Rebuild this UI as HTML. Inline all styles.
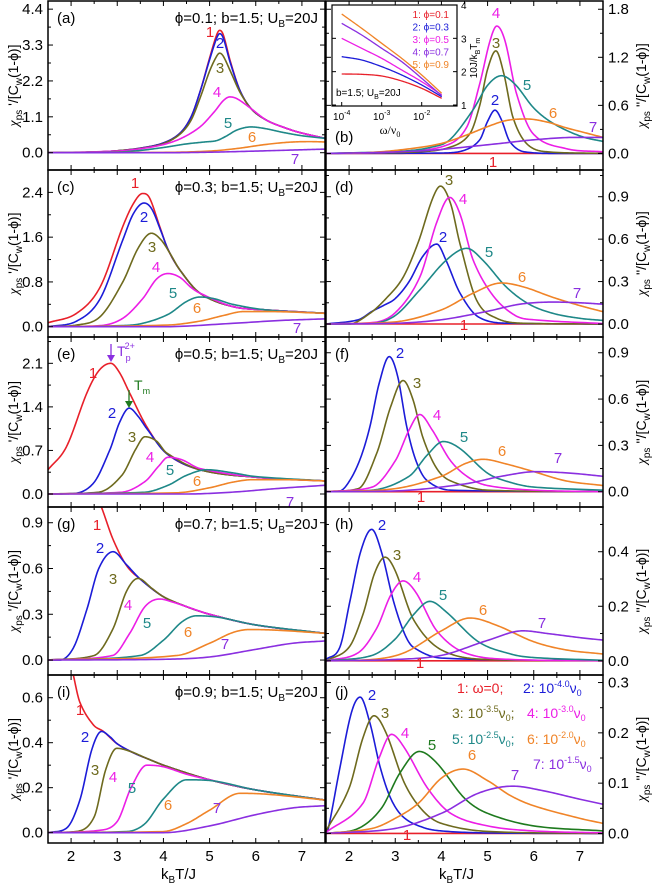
<!DOCTYPE html>
<html><head><meta charset="utf-8">
<style>
html,body{margin:0;padding:0;background:#fff;}
svg{display:block;font-family:"Liberation Sans",sans-serif;}
</style></head>
<body>
<svg id="fig" width="658" height="885" viewBox="0 0 658 885" xmlns="http://www.w3.org/2000/svg"></svg>
<script>
// ---------- data ----------
const xTicks=[2,3,4,5,6,7];
const curveIds=[1,2,3,4,5,6,7];
const colors=["#e8202a","#1c1cd8","#6e6a1e","#ec1ee6","#1e8888","#f08428","#8a2fe0"];
// panel (a)
const pa1=[1.5,0,2.5,0.02,3,0.06,3.5,0.14,4,0.3,4.36,0.6,4.6,1.1,4.8,1.9,5.0,2.9,5.15,3.6,5.22,3.75,5.3,3.6,5.45,2.8,5.66,1.9,5.9,1.35,6.23,1.0,6.6,0.78,6.95,0.62,7.5,0.44];
const pa2=[1.5,0,2.5,0.02,3,0.06,3.5,0.14,4,0.3,4.36,0.6,4.6,1.1,4.8,1.9,5.0,2.85,5.15,3.5,5.22,3.65,5.3,3.5,5.45,2.75,5.66,1.9,5.9,1.35,6.23,1.0,6.6,0.78,6.95,0.62,7.5,0.44];
const pa3=[1.5,0,2.5,0.02,3,0.06,3.5,0.13,4,0.28,4.36,0.57,4.6,1.0,4.8,1.7,5.0,2.5,5.15,2.95,5.22,3.05,5.3,2.95,5.45,2.5,5.66,1.85,5.9,1.35,6.23,1.0,6.6,0.78,6.95,0.62,7.5,0.44];
const pa4=[1.5,0,3,0.05,3.5,0.12,4,0.25,4.4,0.45,4.8,0.8,5.1,1.25,5.3,1.6,5.44,1.71,5.6,1.65,5.9,1.35,6.23,1.0,6.6,0.78,6.95,0.62,7.5,0.44];
const pa5=[1.5,0,3,0.02,3.5,0.07,4,0.16,4.5,0.27,4.9,0.33,5.15,0.37,5.35,0.5,5.6,0.7,5.9,0.79,6.2,0.74,6.6,0.62,7,0.52,7.5,0.44];
const pa6=[1.5,0,4,0.01,5,0.05,5.6,0.13,6.2,0.25,6.7,0.32,7.17,0.34,7.5,0.33];
const pa7=[1.5,0,4,0,5,0.015,6,0.05,7,0.09,7.5,0.11];
// panel (b)
const pb1=[1.5,0,7.5,0];
const pb2=[1.5,0,4,0.005,4.5,0.04,4.83,0.17,5.0,0.4,5.16,0.54,5.3,0.42,5.48,0.15,5.8,0.02,6.5,0,7.5,0];
const pb3=[1.5,0,3.5,0.02,4.2,0.08,4.62,0.25,4.83,0.6,5.0,1.05,5.18,1.28,5.35,1.0,5.55,0.45,5.85,0.12,6.3,0.02,7.5,0];
const pb4=[1.5,0,3,0.02,4.1,0.1,4.55,0.33,4.83,0.87,5.05,1.4,5.2,1.59,5.38,1.4,5.63,0.74,5.98,0.25,6.7,0.06,7.5,0.02];
const pb5=[1.5,0,3.2,0.03,3.8,0.08,4.18,0.17,4.68,0.54,5.0,0.85,5.3,0.97,5.6,0.86,5.98,0.58,6.3,0.42,6.7,0.29,7.1,0.2,7.5,0.15];
const pb6=[1.5,0,2.4,0.01,3.2,0.05,3.97,0.12,4.5,0.22,4.98,0.33,5.4,0.41,5.85,0.43,6.3,0.39,6.7,0.32,7.1,0.26,7.5,0.2];
const pb7=[1.5,0,2.5,0.01,3.5,0.03,4,0.05,5.2,0.12,6,0.17,6.9,0.2,7.5,0.2];
// panel (c)
const pc1=[1.5,0.07,2.12,0.24,2.63,0.71,3.12,1.79,3.35,2.2,3.55,2.38,3.7,2.3,3.92,1.79,4.1,1.38,4.36,1.01,4.79,0.6,5.5,0.36,6.23,0.3,7.5,0.24];
const pc2=[1.5,0,2.12,0.1,2.63,0.5,3.12,1.55,3.35,2.02,3.58,2.21,3.75,2.1,3.95,1.7,4.1,1.38,4.36,1.01,4.79,0.6,5.5,0.36,6.23,0.3,7.5,0.24];
const pc3=[1.5,0,2.12,0.03,2.63,0.18,3.12,0.8,3.45,1.4,3.74,1.67,3.95,1.55,4.15,1.3,4.36,1.01,4.79,0.6,5.5,0.36,6.23,0.3,7.5,0.24];
const pc4=[1.5,0,2.63,0.02,3.12,0.15,3.55,0.5,3.85,0.85,4.1,0.95,4.36,0.88,4.6,0.7,4.79,0.6,5.5,0.36,6.23,0.3,7.5,0.24];
const pc5=[1.5,0,3.1,0.02,3.55,0.06,4.1,0.22,4.5,0.45,4.79,0.53,5.1,0.5,5.5,0.4,6.23,0.3,7.5,0.24];
const pc6=[1.5,0,4.1,0.03,4.79,0.1,5.3,0.2,5.73,0.27,6.3,0.27,7.5,0.24];
const pc7=[1.5,0,4,0,5.5,0.06,6.5,0.11,7.5,0.14];
// panel (d)
const pd1=[1.5,0,7.5,0];
const pd2=[1.5,0,2.2,0.03,2.5,0.09,2.74,0.13,3.0,0.18,3.3,0.3,3.6,0.48,3.9,0.565,4.1,0.45,4.4,0.22,4.8,0.05,5.5,0.005,7.5,0];
const pd3=[1.5,0,2.0,0,2.45,0.075,2.8,0.18,3.17,0.33,3.5,0.58,3.8,0.88,3.98,0.975,4.2,0.85,4.4,0.57,4.76,0.17,5.2,0.04,5.8,0.005,7.5,0];
const pd4=[1.5,0,2.5,0.01,3.0,0.08,3.53,0.33,3.9,0.72,4.18,0.895,4.4,0.78,4.69,0.45,5.12,0.2,5.6,0.06,6,0.03,7.5,0.003];
const pd5=[1.5,0,2.5,0.005,3.0,0.06,3.53,0.24,4.1,0.45,4.55,0.535,4.9,0.45,5.41,0.26,5.9,0.14,6.42,0.075,7,0.04,7.5,0.025];
const pd6=[1.5,0,3,0.015,4,0.1,4.7,0.22,5.3,0.29,5.8,0.26,6.4,0.19,7,0.13,7.5,0.087];
const pd7=[1.5,0,3,0.005,4,0.03,5,0.09,5.7,0.14,6.42,0.155,7,0.15,7.5,0.14];
// panel (e)
const pe1=[1.5,0.39,1.9,0.76,2.34,1.62,2.6,1.98,2.86,2.1,3.05,1.95,3.27,1.62,3.64,1.08,4.07,0.65,4.79,0.39,6,0.27,7.5,0.21];
const pe2=[1.5,0,2.0,0.005,2.48,0.17,2.84,0.71,3.05,1.15,3.26,1.38,3.45,1.25,3.64,1.05,4.07,0.65,4.79,0.39,6,0.27,7.5,0.21];
const pe3=[1.5,0,2.6,0.03,3.1,0.3,3.4,0.72,3.6,0.92,3.85,0.85,4.07,0.66,4.79,0.39,6,0.27,7.5,0.21];
const pe4=[1.5,0,3.1,0.03,3.6,0.2,3.9,0.45,4.1,0.59,4.4,0.55,4.79,0.41,6,0.27,7.5,0.21];
const pe5=[1.5,0,3.6,0.03,4.1,0.14,4.5,0.3,4.94,0.39,5.5,0.34,6,0.28,7.5,0.21];
const pe6=[1.5,0,4.3,0.02,5,0.1,5.5,0.19,5.94,0.23,6.6,0.23,7.5,0.21];
const pe7=[1.5,0,4.5,0,5.5,0.03,6.5,0.09,7.5,0.14];
// panel (f)
const pf1=[1.5,0,7.5,0];
const pf2=[1.5,0,1.8,0.005,2.02,0.075,2.25,0.22,2.45,0.42,2.65,0.7,2.87,0.875,3.05,0.75,3.25,0.42,3.45,0.2,3.68,0.075,4.2,0.01,7.5,0];
const pf3=[1.5,0,2.2,0.02,2.6,0.25,2.9,0.55,3.17,0.72,3.38,0.6,3.6,0.35,3.9,0.15,4.2,0.07,5,0.01,7.5,0];
const pf4=[1.5,0,2.5,0.03,3.0,0.2,3.3,0.4,3.53,0.5,3.8,0.4,4.2,0.2,4.6,0.09,5,0.04,6,0.01,7.5,0];
const pf5=[1.5,0,2.5,0.01,3.3,0.1,3.7,0.24,4.04,0.325,4.4,0.28,5,0.12,5.5,0.06,6,0.03,7.5,0.01];
const pf6=[1.5,0,3,0.02,4,0.1,4.5,0.18,4.9,0.21,5.4,0.18,6,0.13,6.7,0.07,7.5,0.04];
const pf7=[1.5,0,3,0.005,4.5,0.05,5.3,0.1,6.06,0.13,6.8,0.12,7.5,0.1];
// panel (g)
const pg1=[2.45,1.15,2.66,1.0,2.91,0.79,3.2,0.62,3.5,0.53,4,0.415,4.5,0.35,5,0.3,6,0.23,7.5,0.175];
const pg2=[1.5,0,1.75,0,2.05,0.08,2.34,0.33,2.6,0.6,2.91,0.71,3.2,0.625,3.5,0.53,4,0.415,4.5,0.35,5,0.3,6,0.23,7.5,0.175];
const pg3=[1.5,0,2.5,0.03,2.9,0.2,3.2,0.45,3.45,0.535,3.75,0.47,4,0.415,4.5,0.35,5,0.3,6,0.23,7.5,0.175];
const pg4=[1.5,0,2.9,0.03,3.27,0.175,3.6,0.35,3.92,0.4,4.2,0.38,4.5,0.35,5,0.3,6,0.23,7.5,0.175];
const pg5=[1.5,0,3.5,0.03,4,0.13,4.4,0.25,4.72,0.29,5.2,0.28,6,0.23,7.5,0.175];
const pg6=[1.5,0,4.3,0.03,5,0.11,5.5,0.18,5.87,0.2,6.5,0.195,7.5,0.175];
const pg7=[1.5,0,4,0.005,5,0.02,6,0.07,6.8,0.11,7.5,0.125];
// panel (h)
const ph1=[1.5,0,7.5,0];
const ph2=[1.5,0.005,1.8,0.05,2.02,0.22,2.25,0.4,2.49,0.482,2.7,0.4,2.96,0.22,3.2,0.1,3.39,0.05,4,0.01,7.5,0];
const ph3=[1.5,0,2.0,0.05,2.3,0.17,2.55,0.32,2.78,0.38,3.0,0.33,3.4,0.15,4,0.04,5,0.005,7.5,0];
const ph4=[1.5,0,2.2,0.03,2.6,0.12,2.9,0.24,3.17,0.293,3.45,0.25,3.9,0.11,4.5,0.03,5.5,0.005,7.5,0];
const ph5=[1.5,0,2.5,0.02,3,0.08,3.4,0.17,3.75,0.218,4.1,0.18,4.8,0.07,5.5,0.025,6,0.012,7.5,0.002];
const ph6=[1.5,0,2.5,0.005,3.2,0.03,4,0.11,4.62,0.157,5.2,0.13,6,0.07,6.7,0.04,7.5,0.025];
const ph7=[1.5,0,3,0.005,4,0.02,5,0.075,5.77,0.11,6.3,0.1,7,0.085,7.5,0.076];
// panel (i)
const pi1=[1.95,0.8,2.05,0.7,2.19,0.58,2.48,0.48,2.7,0.45,3.0,0.395,3.35,0.355,3.64,0.33,4.07,0.295,5,0.235,6,0.19,7.5,0.145];
const pi2=[1.5,0,1.9,0.02,2.19,0.145,2.45,0.37,2.66,0.45,2.85,0.425,3.0,0.395,3.35,0.355,3.64,0.33,4.07,0.295,5,0.235,6,0.19,7.5,0.145];
const pi3=[1.5,0,2.1,0.005,2.5,0.07,2.75,0.28,2.99,0.375,3.3,0.36,3.64,0.33,4.07,0.295,5,0.235,6,0.19,7.5,0.145];
const pi4=[1.5,0,2.6,0.01,3.0,0.05,3.3,0.2,3.64,0.3,4,0.293,4.5,0.26,5,0.235,6,0.19,7.5,0.145];
const pi5=[1.5,0,3.2,0.005,3.6,0.04,4,0.15,4.5,0.235,5,0.232,6,0.19,7.5,0.145];
const pi6=[1.5,0,4,0.005,4.5,0.04,5,0.1,5.66,0.175,6.3,0.17,7.5,0.145];
const pi7=[1.5,0,4,0,5,0.03,6,0.08,6.8,0.11,7.5,0.12];
// panel (j)
const pj1=[1.5,0,7.5,0];
const pj2=[1.5,0.003,1.55,0.01,1.8,0.13,2.05,0.24,2.24,0.271,2.45,0.22,2.67,0.133,2.9,0.07,3.17,0.033,3.6,0.012,4,0.005,5,0.001,7.5,0];
const pj3=[1.5,0.005,2.0,0.09,2.3,0.19,2.54,0.234,2.8,0.2,3.2,0.1,3.6,0.045,4,0.02,5,0.004,7.5,0];
const pj4=[1.5,0.002,2.3,0.06,2.65,0.15,2.92,0.197,3.2,0.17,3.7,0.09,4.2,0.04,5,0.015,6,0.005,7.5,0.001];
const pj5=[1.5,0,2.2,0.01,2.7,0.05,3.1,0.12,3.52,0.163,3.9,0.14,4.5,0.07,5,0.04,6,0.015,7.5,0.005];
const pj6=[1.5,0,2.5,0.01,3.0,0.03,3.5,0.06,4.0,0.11,4.47,0.128,5,0.105,5.5,0.075,6,0.055,7,0.03,7.5,0.02];
const pj7=[1.5,0,3,0.01,4,0.04,4.8,0.08,5.55,0.094,6.2,0.085,7,0.068,7.5,0.058];
// inset of (b): log10(omega/nu0) vs 10J/kBTm
const insetLogW=[-4,-3.5,-3,-2.5,-2,-1.5];
const insetPhi=["0.1","0.3","0.5","0.7","0.9"];
const inset1=[1.93,1.92,1.87,1.72,1.5,1.2];
const inset2=[2.45,2.35,2.15,1.9,1.6,1.25];
const inset3=[3.0,2.7,2.4,2.05,1.7,1.3];
const inset4=[3.45,3.1,2.7,2.3,1.8,1.28];
const inset5=[3.73,3.3,2.85,2.4,1.9,1.35];

// ---------- layout ----------
const NS="http://www.w3.org/2000/svg";
const svg=document.getElementById('fig');
function mk(tag,attrs,parent){const e=document.createElementNS(NS,tag);for(const k in attrs)e.setAttribute(k,attrs[k]);(parent||svg).appendChild(e);return e;}
const panels=[
 {id:"a",col:0,top:1,bot:170,ymin:-0.53,ymax:4.65,maj:1.1,min:0.55,ytop:4.4,series:[pa1,pa2,pa3,pa4,pa5,pa6,pa7],phi:"0.1",
  labels:[[210,37],[220,48],[220,73],[217,97],[228,128],[252,142],[295,164]]},
 {id:"b",col:1,top:1,bot:170,ymin:-0.207,ymax:1.903,maj:0.6,min:0.3,ytop:1.8,series:[pb1,pb2,pb3,pb4,pb5,pb6,pb7],
  labels:[[493,167],[495,105],[496,48],[496,18],[527,90],[553,118],[593,132]]},
 {id:"c",col:0,top:170,bot:337,ymin:-0.184,ymax:2.8,maj:0.8,min:0.4,ytop:2.4,series:[pc1,pc2,pc3,pc4,pc5,pc6,pc7],phi:"0.3",
  labels:[[135,188],[144,222],[152,252],[156,272],[173,298],[197,313],[297,333]]},
 {id:"d",col:1,top:170,bot:337,ymin:-0.092,ymax:1.089,maj:0.3,min:0.15,ytop:0.9,series:[pd1,pd2,pd3,pd4,pd5,pd6,pd7],
  labels:[[464,330],[443,242],[449,185],[463,204],[489,257],[522,282],[577,298]]},
 {id:"e",col:0,top:337,bot:507,ymin:-0.209,ymax:2.523,maj:0.7,min:0.35,ytop:2.1,series:[pe1,pe2,pe3,pe4,pe5,pe6,pe7],phi:"0.5",
  labels:[[93,378],[112,418],[132,442],[150,462],[170,475],[197,486],[290,507]]},
 {id:"f",col:1,top:337,bot:507,ymin:-0.099,ymax:1.002,maj:0.3,min:0.15,ytop:0.9,series:[pf1,pf2,pf3,pf4,pf5,pf6,pf7],
  labels:[[421,502],[400,358],[417,388],[437,420],[464,442],[502,456],[558,463]]},
 {id:"g",col:0,top:507,bot:675,ymin:-0.098,ymax:1.003,maj:0.3,min:0.15,ytop:0.9,series:[pg1,pg2,pg3,pg4,pg5,pg6,pg7],phi:"0.7",
  labels:[[97,530],[100,553],[113,584],[128,610],[147,628],[188,637],[225,649]]},
 {id:"h",col:1,top:507,bot:675,ymin:-0.052,ymax:0.564,maj:0.2,min:0.1,ytop:0.4,series:[ph1,ph2,ph3,ph4,ph5,ph6,ph7],
  labels:[[420,668],[382,530],[397,560],[417,582],[443,600],[483,615],[542,628]]},
 {id:"i",col:0,top:675,bot:843,ymin:-0.046,ymax:0.701,maj:0.2,min:0.1,ytop:0.6,series:[pi1,pi2,pi3,pi4,pi5,pi6,pi7],phi:"0.9",
  labels:[[80,715],[85,742],[95,775],[113,782],[132,793],[168,810],[217,813]]},
 {id:"j",col:1,top:675,bot:843,ymin:-0.019,ymax:0.315,maj:0.1,min:0.05,ytop:0.3,series:[pj1,pj2,pj3,pj4,pj5,pj6,pj7],
  labels:[[407,840],[372,700],[385,718],[405,738],[432,750],[472,760],[515,780]]}
];
const colL=[48,326], colW=277;

const defs=mk('defs',{});
panels.forEach(p=>{
  const L=colL[p.col], R=L+colW;
  const xs=x=>L+(x-1.5)/6*colW;
  const ys=v=>p.bot-(v-p.ymin)/(p.ymax-p.ymin)*(p.bot-p.top);
  const g=mk('g',{});
  
  
  const cp=mk('clipPath',{id:'clip'+p.id},defs);
  mk('rect',{x:L,y:p.top,width:colW,height:p.bot-p.top},cp);
  const sg=mk('g',{'clip-path':'url(#clip'+p.id+')'},g);
  p.series.forEach((arr,i)=>{
    const pts=[];for(let k=0;k<arr.length;k+=2)pts.push([arr[k],arr[k+1]]);
    const d=smoothPath(pts,xs,ys);
    let col=colors[i];
    if(p.id==="j"&&i===4)col="#1e7a1e";
    const path=mk('path',{d:d,fill:'none',stroke:col,'stroke-width':1.6,'stroke-linejoin':'round'},sg);
    
    
    const lb=p.labels[i];
    const t=mk('text',{x:lb[0],y:lb[1],fill:col,'font-size':15,'text-anchor':'middle'},g);
    t.textContent=String(curveIds[i]);
    
    
  });
  const fr=mk('rect',{x:L,y:p.top,width:colW,height:p.bot-p.top,fill:'none',stroke:'#000','stroke-width':1.5},g);
  
  
  for(let x=1.5;x<=7.5001;x+=0.5){
    const major=Math.abs(x-Math.round(x))<1e-6;
    const len=major?5:3;
    mk('line',{x1:xs(x),x2:xs(x),y1:p.bot,y2:p.bot-len,stroke:'#000','stroke-width':1},g);
    mk('line',{x1:xs(x),x2:xs(x),y1:p.top,y2:p.top+len,stroke:'#000','stroke-width':1},g);
  }
  if(p.id==="i"||p.id==="j"){
    xTicks.forEach(x=>{
      const t=mk('text',{x:xs(x),y:861,'font-size':15,'text-anchor':'middle'},g);
      t.textContent=String(x);
      
      
    });
    const xt=mk('text',{x:L+colW/2-8,y:879,'font-size':15,'text-anchor':'middle'},g);
    xt.innerHTML='k<tspan font-size="10" dy="4">B</tspan><tspan dy="-4">T/J</tspan>';
    
    
  }
  const nmin=Math.ceil((p.ymin)/p.min-1e-6), nmax=Math.floor(p.ymax/p.min+1e-6);
  for(let n=nmin;n<=nmax;n++){
    const v=n*p.min, y=ys(v);
    if(y<p.top+1||y>p.bot-1)continue;
    const major=(n%2===0);
    const len=major?5:3;
    mk('line',{x1:L,x2:L+len,y1:y,y2:y,stroke:'#000','stroke-width':1},g);
    mk('line',{x1:R,x2:R-len,y1:y,y2:y,stroke:'#000','stroke-width':1},g);
    if(major&&v>=-1e-9&&v<=p.ytop+1e-9){
      const t=mk('text',{x:p.col===0?L-5:R+5,y:y+5,'font-size':15,'text-anchor':p.col===0?'end':'start'},g);
      t.textContent=(Math.abs(v)<1e-9?0:v).toFixed(1);
      
      
    }
  }
  const cy=(p.top+p.bot)/2, tx=p.col===0?18:646;
  const yt=mk('text',{x:0,y:0,'font-size':14,'text-anchor':'middle',transform:'translate('+tx+','+cy+') rotate(-90)'},g);
  yt.innerHTML='<tspan font-family="Liberation Serif" font-style="italic">χ</tspan><tspan font-size="10" dy="4">ps</tspan><tspan dy="-4">'+(p.col===0?' \'':' \'\'')+'/[C</tspan><tspan font-size="10" dy="4">w</tspan><tspan dy="-4">(1-ϕ)]</tspan>';
  
  
  const pl=mk('text',{x:L+9,y:p.top+(p.id==="b"?141:22),'font-size':15},g);
  pl.textContent='('+p.id+')';
  
  
  if(p.phi){
    const pt=mk('text',{x:R-7,y:p.top+22,'font-size':15,'text-anchor':'end'},g);
    pt.innerHTML='ϕ='+p.phi+'; b=1.5; U<tspan font-size="10" dy="4">B</tspan><tspan dy="-4">=20J</tspan>';
    
    
  }
});

(function(){
  const g=mk('g',{});
  
  
  mk('line',{x1:111,y1:344,x2:111,y2:357,stroke:'#8a2fe0','stroke-width':1.3},g);
  mk('path',{d:'M107,355 L115,355 L111,362 Z',fill:'#8a2fe0'},g);
  const t1=mk('text',{x:117,y:356,fill:'#8a2fe0','font-size':14},g);
  t1.innerHTML='T<tspan font-size="9" dy="5">p</tspan><tspan font-size="9" dx="-6" dy="-12">2+</tspan>';
  
  
  mk('line',{x1:129,y1:390,x2:129,y2:402,stroke:'#1e7a1e','stroke-width':1.3},g);
  mk('path',{d:'M125,401 L133,401 L129,408 Z',fill:'#1e7a1e'},g);
  const t2=mk('text',{x:134,y:390,fill:'#1e7a1e','font-size':14},g);
  t2.innerHTML='T<tspan font-size="9" dy="4">m</tspan>';
  
  
})();

(function(){
  const g=mk('g',{'font-size':14});
  
  
  const rows=[
    [[457,693,colors[0],'1: ω=0;'],[523,693,colors[1],'2: 10','-4.0']],
    [[452,718,colors[2],'3: 10','-3.5',';'],[527,718,colors[3],'4: 10','-3.0']],
    [[452,744,colors[4],'5: 10','-2.5',';'],[527,744,colors[5],'6: 10','-2.0']],
    [[533,769,colors[6],'7: 10','-1.5']]
  ];
  rows.forEach(r=>r.forEach(e=>{
    const t=mk('text',{x:e[0],y:e[1],fill:e[2]},g);
    if(e[3]==='1: ω=0;'){t.textContent=e[3];}
    else t.innerHTML=e[3]+'<tspan font-size="9" dy="-6">'+e[4]+'</tspan><tspan dy="6">ν</tspan><tspan font-size="9" dy="3">0</tspan><tspan dy="-3">'+(e[5]||'')+'</tspan>';
    
    
  }));
})();

(function(){
  const g=mk('g',{});
  
  
  const L=332,R=457,T=5,B=106;
  mk('rect',{x:L,y:T,width:R-L,height:B-T,fill:'#fff',stroke:'#000','stroke-width':1.2},g);
  const xs=lw=>341.7+(lw+4)*40;
  const ys=v=>5+(4-v)*33.33;
  const sets=[inset1,inset2,inset3,inset4,inset5];
  const icol=[colors[0],colors[1],colors[3],colors[6],colors[5]];
  sets.forEach((s,i)=>{
    const pts=s.map((v,k)=>[insetLogW[k],v]);
    const p=mk('path',{d:smoothPath(pts,xs,ys),fill:'none',stroke:icol[i],'stroke-width':1.3},g);
    
    
    const t=mk('text',{x:449,y:18+i*12.5,fill:icol[i],'font-size':10,'text-anchor':'end'},g);
    t.textContent=(i+1)+': ϕ='+insetPhi[i];
    
    
  });
  [-4,-3,-2].forEach(lw=>{
    mk('line',{x1:xs(lw),x2:xs(lw),y1:B,y2:B-4,stroke:'#000'},g);
    const t=mk('text',{x:xs(lw),y:120,'font-size':10,'text-anchor':'middle'},g);
    t.innerHTML='10<tspan font-size="7" dy="-5">'+lw+'</tspan>';
    
    
  });
  [1,2,3,4].forEach(v=>{
    mk('line',{x1:R,x2:R-4,y1:ys(v),y2:ys(v),stroke:'#000'},g);
    mk('line',{x1:L,x2:L+4,y1:ys(v),y2:ys(v),stroke:'#000'},g);
    const t=mk('text',{x:461,y:ys(v)+4,'font-size':10},g);
    t.textContent=String(v);
    
    
  });
  const xt=mk('text',{x:390,y:134,'font-size':12,'font-family':'Liberation Serif','text-anchor':'middle'},g);
  xt.innerHTML='ω/ν<tspan font-size="8" dy="3">0</tspan>';
  
  
  const yt=mk('text',{x:0,y:0,'font-size':10,'text-anchor':'middle',transform:'translate(477,58) rotate(-90)'},g);
  yt.innerHTML='10J/k<tspan font-size="7" dy="3">B</tspan><tspan dy="-3">T</tspan><tspan font-size="7" dy="3">m</tspan>';
  
  
  const pt=mk('text',{x:336,y:96,'font-size':10},g);
  pt.innerHTML='b=1.5; U<tspan font-size="7" dy="3">B</tspan><tspan dy="-3">=20J</tspan>';
  
  
})();

// smooth cubic Hermite path (Catmull-Rom tangents, zero at extrema, limited to avoid overshoot)
function smoothPath(pts,xs,ys){
  const n=pts.length;
  if(n<3)return 'M'+pts.map(p=>xs(p[0]).toFixed(1)+','+ys(p[1]).toFixed(1)).join(' L');
  const x=pts.map(p=>p[0]),y=pts.map(p=>p[1]);
  const dl=[],m=new Array(n);
  for(let i=0;i<n-1;i++)dl.push((y[i+1]-y[i])/(x[i+1]-x[i]));
  m[0]=dl[0];m[n-1]=dl[n-2];
  for(let i=1;i<n-1;i++){
    if(dl[i-1]*dl[i]<=0){m[i]=0;continue;}
    let t=(y[i+1]-y[i-1])/(x[i+1]-x[i-1]);
    const lim=3*Math.min(Math.abs(dl[i-1]),Math.abs(dl[i]));
    if(Math.abs(t)>lim)t=Math.sign(t)*lim;
    m[i]=t;
  }
  let d='M'+xs(x[0]).toFixed(2)+','+ys(y[0]).toFixed(2);
  for(let i=0;i<n-1;i++){
    const h=x[i+1]-x[i];
    for(let s=1;s<=20;s++){
      const t=s/20,t2=t*t,t3=t2*t;
      const v=(2*t3-3*t2+1)*y[i]+(t3-2*t2+t)*h*m[i]+(-2*t3+3*t2)*y[i+1]+(t3-t2)*h*m[i+1];
      d+=' L'+xs(x[i]+t*h).toFixed(2)+','+ys(v).toFixed(2);
    }
  }
  return d;
}
</script>
</body></html>
